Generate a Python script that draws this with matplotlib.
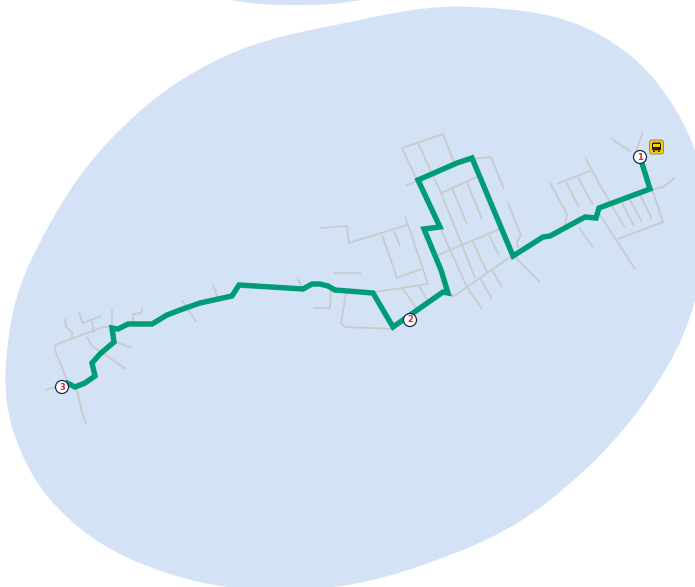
import numpy as np
import matplotlib
matplotlib.use("Agg")
import matplotlib.pyplot as plt
from matplotlib.path import Path
from matplotlib.patches import PathPatch, FancyBboxPatch, Rectangle, Circle

main_area = [(473,7),(600,35),(683,123),(705,235),(667,367),(550,500),(417,567),(290,590),(167,573),(67,517),
             (13,430),(9,335),(37,248),(110,140),(217,60),(350,22)]
top_area = [(160,-25),(226,-1),(295,5),(365,-1),(430,-25),(295,-60)]

roads = [
 [(402,148),(443,134),(454,162)], [(402,148),(418,182)], [(418,143),(441,193),(462,245),(475,278)],
 [(405,186),(419,180)], [(441,193),(477,177)], [(452,188),(467,224)], [(467,183),(482,219)],
 [(472,159),(491,157),(504,189)], [(508,203),(521,235),(517,242),(518,248)],
 [(438,255),(500,229)], [(489,235),(499,255)], [(473,242),(487,272)],
 [(441,230),(467,287),(482,309)], [(448,293),(454,296),(480,278),(513,255),(540,282)],
 [(480,278),(492,299)], [(492,270),(502,287)],
 [(550,183),(567,214),(565,225)], [(557,184),(592,170)], [(566,182),(579,207)], [(578,177),(593,205)],
 [(585,157),(600,185),(625,228)], [(600,215),(635,269)], [(579,228),(593,247)],
 [(622,203),(634,226)], [(630,200),(642,222)], [(640,195),(652,219)],
 [(652,189),(663,222),(618,239)], [(651,190),(663,187),(675,178)],
 [(612,139),(631,152)], [(643,132),(636,151)],
 [(320,228),(347,226),(349,243),(407,225)], [(405,216),(428,284)], [(375,292),(428,284)],
 [(382,235),(397,278),(421,269)], [(394,231),(400,246)], [(403,289),(417,309)], [(419,286),(427,300)],
 [(333,273),(361,273)], [(297,277),(303,289)], [(313,308),(330,308),(331,290)],
 [(346,293),(341,323),(345,327),(370,328),(393,329)],
 [(46,390),(55,387)], [(55,345),(55,350),(68,383),(77,390),(82,412),(86,424)],
 [(55,345),(103,327),(113,327)], [(65,319),(66,327),(72,332),(72,338)],
 [(79,313),(83,323),(101,316)], [(92,321),(94,333)], [(112,310),(112,327)],
 [(87,337),(92,346),(126,369)], [(116,342),(132,348)],
 [(133,323),(133,314),(141,313),(143,308)], [(182,300),(196,322)], [(213,285),(218,298)],
]

route = [(640,157),(650,189),(599,208),(596,218),(585,217),(550,236),(543,237),(513,256),(472,158),(457,163),
         (418,180),(440,227),(424,229),(441,270),(448,293),(443,292),(393,327),(373,293),(335,290),(328,286),
         (320,284),(312,284),(303,289),(239,285),(232,296),(200,303),(180,310),(167,315),(152,324),(128,324),
         (118,329),(112,328),(114,342),(100,354),(92,363),(95,376),(85,383),(75,387),(65,382)]

stop_labels = ["1", "2", "3"]
stop_x = [640, 410, 62]
stop_y = [157, 320, 387]
bus_x, bus_y = 656.5, 147

def smooth_closed(pts):
    p = np.array(pts, float)
    n = len(p)
    tang = []
    for i in range(n):
        d = p[(i+1) % n] - p[(i-1) % n]
        tang.append(d / np.hypot(*d))
    verts = [p[0]]
    codes = [Path.MOVETO]
    for i in range(n):
        j = (i+1) % n
        h = np.hypot(*(p[j]-p[i])) * 0.36
        verts += [p[i] + tang[i]*h, p[j] - tang[j]*h, p[j]]
        codes += [Path.CURVE4]*3
    return Path(verts, codes)

fig = plt.figure(figsize=(6.95, 5.87), dpi=100, facecolor="white")
ax = fig.add_axes([0, 0, 1, 1])
ax.set_xlim(0, 695)
ax.set_ylim(587, 0)
ax.axis("off")

for area in (main_area, top_area):
    ax.add_patch(PathPatch(smooth_closed(area), facecolor="#D3E2F5", edgecolor="none", zorder=1))

for r in roads:
    x, y = zip(*r)
    ax.plot(x, y, color="#C9CACA", lw=1.25, solid_capstyle="butt", solid_joinstyle="round", zorder=2)

rx, ry = zip(*route)
ax.plot(rx, ry, color="#009B77", lw=3.9, solid_capstyle="butt", solid_joinstyle="miter", zorder=3)

for lab, x, y in zip(stop_labels, stop_x, stop_y):
    ax.add_patch(Circle((x, y), 6.5, facecolor="white", edgecolor="#1B2A4A", lw=0.9, zorder=4))
    ax.text(x, y, lab, color="#E3242B", fontsize=6, fontweight="bold", ha="center", va="center",
            family="DejaVu Sans", zorder=5)

# bus icon
ax.add_patch(FancyBboxPatch((bus_x-6, bus_y-6), 12, 12, boxstyle="round,pad=1,rounding_size=2.5",
                            facecolor="#FFCC00", edgecolor="#8F8A70", lw=0.7, zorder=4))
ax.add_patch(FancyBboxPatch((bus_x-4.5, bus_y-4.5), 9, 8, boxstyle="round,pad=0,rounding_size=1.3",
                            facecolor="#1E1E1E", edgecolor="none", zorder=5))
ax.add_patch(Rectangle((bus_x-3.2, bus_y-3.2), 6.4, 3.2, facecolor="#FFCC00", edgecolor="none", zorder=6))
ax.add_patch(Rectangle((bus_x-3.8, bus_y+3.5), 2, 1.8, facecolor="#1E1E1E", edgecolor="none", zorder=5))
ax.add_patch(Rectangle((bus_x+1.8, bus_y+3.5), 2, 1.8, facecolor="#1E1E1E", edgecolor="none", zorder=5))

fig.savefig("out.png", dpi=100, facecolor="white")
